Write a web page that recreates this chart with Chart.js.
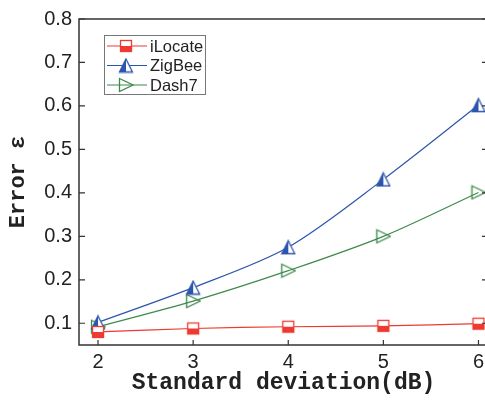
<!DOCTYPE html>
<html>
<head>
<meta charset="utf-8">
<script src="https://cdn.jsdelivr.net/npm/chart.js@4/dist/chart.umd.min.js"></script>
<style>
  html, body { margin: 0; padding: 0; background: #fff; overflow: hidden; }
  #wrap { width: 500px; height: 404px; }
</style>
</head>
<body>
<div id="wrap"><canvas id="errChart" width="500" height="404"></canvas></div>
<script>
// 데이터
var xValues = [2, 3, 4, 5, 6];
var iLocate = [0.080, 0.088, 0.092, 0.094, 0.099];
var zigBee = [0.102, 0.182, 0.275, 0.431, 0.602];
var dash7 = [0.092, 0.151, 0.221, 0.300, 0.401];
var yTicks = [0.1, 0.2, 0.3, 0.4, 0.5, 0.6, 0.7, 0.8];
var xTicks = [2, 3, 4, 5, 6];

var RED = '#ee3a32', BLUE = '#2d55ad', GREEN = '#3d8a4c';

// 마커 이미지 만들기
function makeMarker(kind, color) {
    var c = document.createElement('canvas');
    c.width = 16; c.height = 16;
    var g = c.getContext('2d');
    g.lineWidth = 1.3;
    g.strokeStyle = color;
    if (kind === 'halfSquare') {
        g.fillStyle = '#fff';
        g.fillRect(2, 2, 12, 12);
        g.fillStyle = color;
        g.fillRect(2, 8, 12, 6);
        g.strokeRect(2.5, 2.5, 11, 11);
    } else if (kind === 'halfTriangle') {
        g.beginPath();
        g.moveTo(8, 1); g.lineTo(15, 15); g.lineTo(1, 15); g.closePath();
        g.fillStyle = '#fff'; g.fill();
        g.beginPath();
        g.moveTo(8, 1); g.lineTo(8, 15); g.lineTo(1, 15); g.closePath();
        g.fillStyle = color; g.fill();
        g.beginPath();
        g.moveTo(8, 1.5); g.lineTo(14.5, 14.5); g.lineTo(1.5, 14.5); g.closePath();
        g.stroke();
    } else {
        // 속이 빈 삼각형 (선이 비쳐 보임)
        g.beginPath();
        g.moveTo(1.5, 1.5); g.lineTo(15, 8); g.lineTo(1.5, 14.5); g.closePath();
        g.stroke();
    }
    return c;
}

function toPoints(arr) {
    return xValues.map(function(x, i) { return { x: x, y: arr[i] }; });
}

var markers = {
    iLocate: makeMarker('halfSquare', RED),
    zigBee: makeMarker('halfTriangle', BLUE),
    dash7: makeMarker('rightTriangle', GREEN)
};

// 프레임과 안쪽 눈금
var framePlugin = {
    id: 'frame',
    afterDatasetsDraw: function(chart) {
        var ctx = chart.ctx, a = chart.chartArea;
        var xs = chart.scales.x, ys = chart.scales.y;
        ctx.save();
        ctx.strokeStyle = '#333';
        ctx.lineWidth = 1.5;
        ctx.strokeRect(a.left, a.top, a.right - a.left, a.bottom - a.top);
        ctx.lineWidth = 1.2;
        ctx.beginPath();
        yTicks.forEach(function(v) {
            var py = ys.getPixelForValue(v);
            ctx.moveTo(a.left, py); ctx.lineTo(a.left + 6, py);
            ctx.moveTo(a.right, py); ctx.lineTo(a.right - 6, py);
        });
        xTicks.forEach(function(v) {
            var px = xs.getPixelForValue(v);
            ctx.moveTo(px, a.bottom); ctx.lineTo(px, a.bottom - 5);
        });
        ctx.stroke();
        ctx.restore();
    }
};

// 범례 (선 + 마커)
var legendPlugin = {
    id: 'lineLegend',
    afterDraw: function(chart) {
        var ctx = chart.ctx, a = chart.chartArea;
        var bx = a.left + 25, by = a.top + 16, bw = 101, bh = 59;
        ctx.save();
        ctx.fillStyle = '#fff';
        ctx.fillRect(bx, by, bw, bh);
        ctx.strokeStyle = '#777';
        ctx.lineWidth = 1;
        ctx.strokeRect(bx + 0.5, by + 0.5, bw, bh);
        ctx.font = '16.5px "Liberation Sans", Arial, sans-serif';
        ctx.textBaseline = 'middle';
        chart.data.datasets.forEach(function(ds, i) {
            var ry = by + 11 + i * 19.5;
            ctx.strokeStyle = ds.borderColor;
            ctx.lineWidth = 1.2;
            ctx.beginPath();
            ctx.moveTo(bx + 3, ry); ctx.lineTo(bx + 43, ry);
            ctx.stroke();
            ctx.drawImage(ds.pointStyle, bx + 22 - 8, ry - 8);
            ctx.fillStyle = '#222';
            ctx.fillText(ds.label, bx + 46, ry + 1);
        });
        ctx.restore();
    }
};

var ctx = document.getElementById('errChart').getContext('2d');
var chart = new Chart(ctx, {
    type: 'line',
    data: {
        datasets: [
            { label: 'iLocate', data: toPoints(iLocate), borderColor: RED, pointStyle: markers.iLocate },
            { label: 'ZigBee', data: toPoints(zigBee), borderColor: BLUE, pointStyle: markers.zigBee },
            { label: 'Dash7', data: toPoints(dash7), borderColor: GREEN, pointStyle: markers.dash7 }
        ].map(function(ds) {
            ds.borderWidth = 1.2;
            ds.fill = false;
            ds.tension = 0.3;
            return ds;
        })
    },
    options: {
        responsive: false,
        animation: false,
        devicePixelRatio: 1,
        layout: { padding: { top: 14, right: 12, left: 0, bottom: 0 } },
        plugins: {
            legend: { display: false },
            tooltip: { enabled: false }
        },
        scales: {
            x: {
                type: 'linear',
                min: 1.8,
                max: 6.1,
                afterBuildTicks: function(s) { s.ticks = xTicks.map(function(v) { return { value: v }; }); },
                afterFit: function(s) { s.height = 59; },
                grid: { display: false, drawTicks: false },
                border: { display: false },
                ticks: {
                    padding: 5,
                    color: '#222',
                    font: { family: '"Liberation Sans", Arial, sans-serif', size: 20 }
                },
                title: {
                    display: true,
                    text: 'Standard deviation(dB)',
                    color: '#222',
                    padding: { top: 0, bottom: 7 },
                    font: { family: '"Liberation Mono", "Courier New", monospace', size: 23, weight: 'bold' }
                }
            },
            y: {
                min: 0.05,
                max: 0.8,
                afterBuildTicks: function(s) { s.ticks = yTicks.map(function(v) { return { value: v }; }); },
                afterFit: function(s) { s.width = 79; },
                grid: { display: false, drawTicks: false },
                border: { display: false },
                ticks: {
                    padding: 7,
                    color: '#222',
                    font: { family: '"Liberation Sans", Arial, sans-serif', size: 20 },
                    callback: function(v) { return Number(v).toFixed(1); }
                },
                title: {
                    display: true,
                    text: 'Error ε',
                    color: '#222',
                    padding: { top: 5, bottom: 0 },
                    font: { family: '"Liberation Mono", "Courier New", monospace', size: 22, weight: 'bold' }
                }
            }
        }
    },
    plugins: [framePlugin, legendPlugin]
});
</script>
</body>
</html>
